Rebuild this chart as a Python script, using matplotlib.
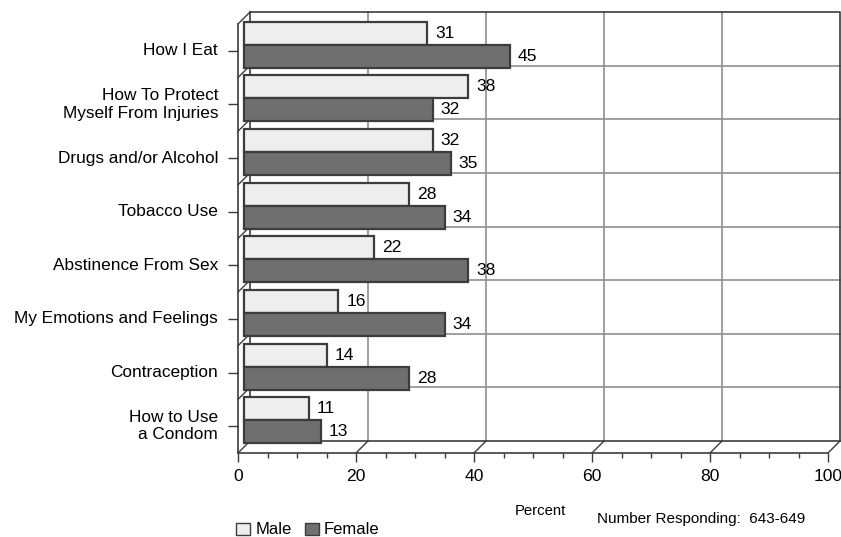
"""Health topics chart: male vs female percent, pseudo-3D horizontal bars."""

import matplotlib

matplotlib.use("Agg")
import matplotlib.pyplot as plt
import matplotlib.transforms as mtransforms
from matplotlib.lines import Line2D
from matplotlib.patches import Patch

plt.rcParams["font.family"] = ["Liberation Sans", "DejaVu Sans"]

categories = [
    "How I Eat",
    "How To Protect\nMyself From Injuries",
    "Drugs and/or Alcohol",
    "Tobacco Use",
    "Abstinence From Sex",
    "My Emotions and Feelings",
    "Contraception",
    "How to Use\na Condom",
]
male = [31, 38, 32, 28, 22, 16, 14, 11]
female = [45, 32, 35, 34, 38, 34, 28, 13]
series_labels = ["Male", "Female"]
x_ticks = [0, 20, 40, 60, 80, 100]
x_minor = list(range(0, 101, 5))

MALE_FILL = "#eeeeee"
FEMALE_FILL = "#6f6f6f"
EDGE = "#3c3c3c"
GRID = "#8f8f8f"
DEPTH = 12  # pixels from front plane to back wall
BAR_H = 0.43


def main() -> None:
    fig = plt.figure(figsize=(8.41, 5.37), dpi=100)
    # the axes is the front plane of the box
    ax = fig.add_axes([238 / 841, (537 - 453) / 537, 590 / 841, 429 / 537])
    n = len(categories)
    top, bottom = -0.5, n - 0.5
    ax.set_xlim(0, 100)
    ax.set_ylim(bottom, top)
    ax.patch.set_visible(False)

    def shifted(d):
        return ax.transData + mtransforms.Affine2D().translate(d, d)

    mid = shifted(DEPTH / 2)
    back = shifted(DEPTH)

    def depth_edge(x, y, **kw):
        px, py = ax.transData.transform((x, y))
        ax.add_line(Line2D([px, px + DEPTH], [py, py + DEPTH],
                           transform=mtransforms.IdentityTransform(),
                           clip_on=False, **kw))

    # back wall grid
    for v in x_ticks[1:-1]:
        ax.plot([v, v], [top, bottom], color=GRID, lw=1.2,
                transform=back, clip_on=False, zorder=1)
    for b in range(1, n):
        ax.plot([0, 100], [b - 0.5, b - 0.5], color=GRID, lw=1.2,
                transform=back, clip_on=False, zorder=1)
    frame = dict(color=EDGE, lw=1.2, clip_on=False, zorder=1.5)
    ax.plot([0, 100, 100], [top, top, bottom], transform=back, **frame)
    ax.plot([0, 0, 100], [top, bottom, bottom], transform=back, **frame)

    # left wall and floor depth edges
    for b in range(n + 1):
        depth_edge(0, b - 0.5, color=EDGE, lw=1.0, zorder=1.5)
    for v in x_ticks[1:]:
        depth_edge(v, bottom, color=EDGE, lw=1.0, zorder=1.5)

    y = list(range(n))
    bar_style = dict(height=BAR_H, edgecolor=EDGE, linewidth=1.6,
                     transform=mid, clip_on=False, zorder=3)
    ax.barh([i - BAR_H / 2 for i in y], male, color=MALE_FILL, **bar_style)
    ax.barh([i + BAR_H / 2 for i in y], female, color=FEMALE_FILL, **bar_style)

    label_tr = mid + mtransforms.Affine2D().translate(8, 0)
    for i in y:
        ax.text(male[i], i - BAR_H / 2, str(male[i]), transform=label_tr,
                ha="left", va="center", fontsize=12.6, zorder=4)
        ax.text(female[i], i + BAR_H / 2, str(female[i]), transform=label_tr,
                ha="left", va="center", fontsize=12.6, zorder=4)

    ax.set_xticks(x_ticks)
    ax.set_xticks(x_minor, minor=True)
    ax.tick_params(axis="x", which="major", direction="out", length=6.5,
                   width=1, color=EDGE, labelsize=12.6, pad=5)
    ax.tick_params(axis="x", which="minor", direction="out", length=3.6,
                   width=1, color=EDGE)
    ax.set_yticks(y, categories)
    ax.tick_params(axis="y", direction="out", length=7.2, width=1,
                   color=EDGE, labelsize=12.4, pad=7.2)
    for t in ax.get_yticklabels():
        t.set_va("center")
    ax.spines[["top", "right"]].set_visible(False)
    for s in ("left", "bottom"):
        ax.spines[s].set_color(EDGE)
        ax.spines[s].set_linewidth(1.2)
    ax.set_xlim(0, 100)
    ax.set_ylim(bottom, top)

    handles = [Patch(facecolor=MALE_FILL, edgecolor=EDGE),
               Patch(facecolor=FEMALE_FILL, edgecolor=EDGE)]
    fig.legend(handles, series_labels, loc="center left",
               bbox_to_anchor=(236 / 841, 1 - 530 / 537), ncol=2,
               frameon=False, fontsize=12, handlelength=0.85,
               handleheight=0.7, handletextpad=0.3, columnspacing=0.8,
               borderpad=0, borderaxespad=0)
    fig.text(540 / 841, 1 - 511 / 537, "Percent", ha="center", va="center",
             fontsize=10.7)
    fig.text(701 / 841, 1 - 519 / 537, "Number Responding:  643-649",
             ha="center", va="center", fontsize=11)

    fig.savefig("out.png", dpi=100)
    plt.close(fig)


if __name__ == "__main__":
    main()
